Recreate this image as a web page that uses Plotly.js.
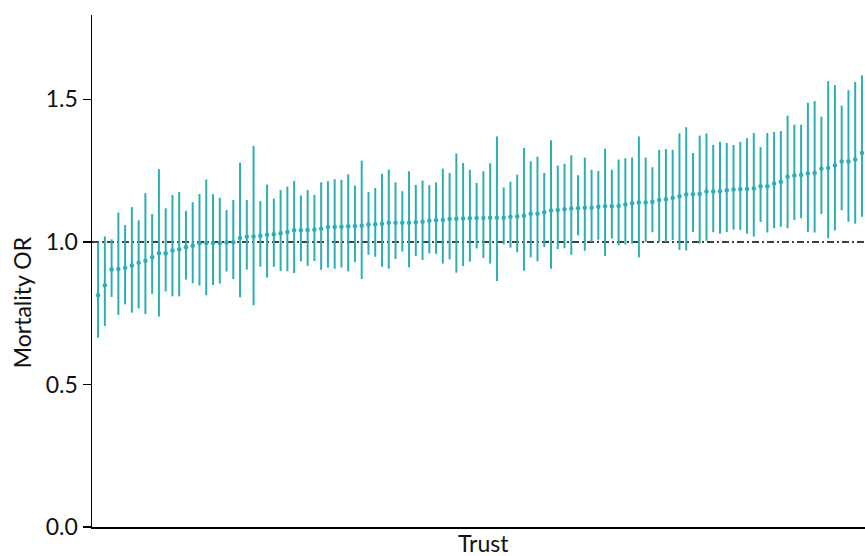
<!DOCTYPE html>
<html><head><meta charset="utf-8">
<script src="https://cdn.plot.ly/plotly-3.0.1.min.js"></script>
<style>html,body{margin:0;padding:0;background:#fff}#chart{width:865px;height:556px}</style>
</head><body><div id="chart"></div>
<script>
const estimate = [0.813,0.848,0.903,0.905,0.909,0.917,0.927,0.934,0.946,0.960,0.960,0.970,0.973,0.981,0.987,0.995,0.996,0.996,0.996,0.998,0.999,1.014,1.018,1.019,1.022,1.025,1.027,1.030,
1.035,1.041,1.041,1.042,1.043,1.046,1.052,1.052,1.053,1.055,1.055,1.057,1.061,1.062,1.064,1.067,1.067,1.067,1.067,1.069,1.071,1.074,1.076,1.077,1.080,1.081,1.082,1.083,1.084,
1.084,1.085,1.085,1.085,1.088,1.089,1.092,1.099,1.099,1.104,1.110,1.112,1.115,1.117,1.118,1.120,1.120,1.123,1.125,1.125,1.126,1.131,1.136,1.138,1.138,1.141,1.147,1.150,
1.154,1.160,1.166,1.167,1.168,1.177,1.177,1.178,1.181,1.184,1.185,1.186,1.187,1.195,1.195,1.205,1.211,1.229,1.233,1.235,1.240,1.242,1.257,1.259,1.268,1.282,1.282,1.289,1.312];
const lower = [0.664,0.705,0.807,0.744,0.781,0.752,0.767,0.747,0.818,0.738,0.826,0.809,0.809,0.868,0.855,0.847,0.813,0.849,0.854,0.896,0.870,0.806,0.903,0.778,0.913,0.875,0.913,0.898,
0.897,0.891,0.932,0.916,0.933,0.902,0.910,0.906,0.910,0.897,0.929,0.870,0.955,0.948,0.913,0.906,0.940,0.966,0.911,0.951,0.937,0.960,0.958,0.924,0.939,0.892,0.915,0.931,0.977,
0.944,0.924,0.863,0.992,0.980,0.964,0.899,0.946,0.932,0.982,0.906,0.975,0.978,0.955,1.023,0.969,1.000,1.008,0.951,1.012,0.988,0.991,0.994,0.946,1.000,1.034,1.000,1.000,
1.007,0.972,0.970,1.035,0.995,1.004,1.034,1.029,1.035,1.043,1.042,1.029,1.019,1.070,1.033,1.048,1.053,1.048,1.077,1.083,1.035,1.033,1.098,1.013,1.040,1.111,1.071,1.064,1.088];
const upper = [0.998,1.019,1.009,1.103,1.059,1.122,1.076,1.171,1.098,1.255,1.118,1.165,1.175,1.109,1.139,1.168,1.219,1.167,1.155,1.112,1.147,1.278,1.147,1.337,1.143,1.201,1.152,1.182,
1.194,1.214,1.163,1.182,1.165,1.209,1.213,1.220,1.218,1.237,1.198,1.285,1.175,1.189,1.239,1.254,1.209,1.178,1.248,1.200,1.215,1.199,1.209,1.257,1.242,1.310,1.277,1.253,1.207,
1.248,1.276,1.370,1.191,1.211,1.236,1.329,1.283,1.299,1.242,1.357,1.268,1.274,1.304,1.234,1.296,1.253,1.249,1.327,1.253,1.289,1.294,1.296,1.370,1.296,1.262,1.323,1.326,
1.323,1.381,1.402,1.312,1.373,1.381,1.340,1.351,1.347,1.340,1.351,1.364,1.382,1.333,1.382,1.386,1.389,1.443,1.411,1.411,1.488,1.494,1.439,1.564,1.550,1.478,1.532,1.561,1.584];
const trustIndex = estimate.map((_, i) => i);
const yTickVals = [0, 0.5, 1.0, 1.5];
const yTickText = ['0.0', '0.5', '1.0', '1.5'];
const referenceOR = 1.0;
const xTitle = 'Trust';
const yTitle = 'Mortality OR';

const teal = '#2eaeb1';
const trace = {
  type: 'scatter', mode: 'markers',
  x: trustIndex, y: estimate,
  marker: {color: teal, size: 4.5},
  error_y: {
    type: 'data', symmetric: false,
    array: upper.map((u, i) => u - estimate[i]),
    arrayminus: lower.map((l, i) => estimate[i] - l),
    color: teal, thickness: 2, width: 0
  },
  hoverinfo: 'skip'
};
const fam = 'Lato, "Open Sans", sans-serif';
const tickFont = {family: fam, size: 23, color: '#111'};
const titleFont = {family: fam, size: 23, color: '#111'};
const layout = {
  width: 865, height: 556,
  margin: {l: 92, r: 0, t: 15, b: 29},
  paper_bgcolor: '#fff', plot_bgcolor: '#fff',
  font: titleFont, showlegend: false,
  xaxis: {range: [-0.9, 113.45], showticklabels: false, ticks: '', showgrid: false, zeroline: false,
    showline: true, linecolor: '#000', linewidth: 1.5},
  yaxis: {range: [0, 1.796], tickvals: yTickVals, ticktext: yTickText, ticks: 'outside', ticklen: 8,
    tickwidth: 1.5, tickcolor: '#000', showgrid: false, zeroline: false,
    showline: true, linecolor: '#000', linewidth: 1.5, tickfont: tickFont},
  annotations: [
    {text: yTitle, textangle: -90, xref: 'paper', yref: 'paper',
      x: 0, xshift: -70, xanchor: 'center', y: 0.439, yanchor: 'middle', showarrow: false, font: titleFont},
    {text: xTitle, xref: 'paper', yref: 'paper', x: 0.5, xshift: 5, xanchor: 'center',
      y: 0, yshift: 0, yanchor: 'top', showarrow: false, font: titleFont}
  ],
  shapes: [{type: 'line', xref: 'paper', x0: 0, x1: 1, yref: 'y', y0: referenceOR, y1: referenceOR,
    line: {color: '#000', width: 1.5, dash: '7px,3px,2px,3px'}, layer: 'below'}]
};
Plotly.newPlot('chart', [trace], layout, {displayModeBar: false, staticPlot: true});
</script></body></html>
